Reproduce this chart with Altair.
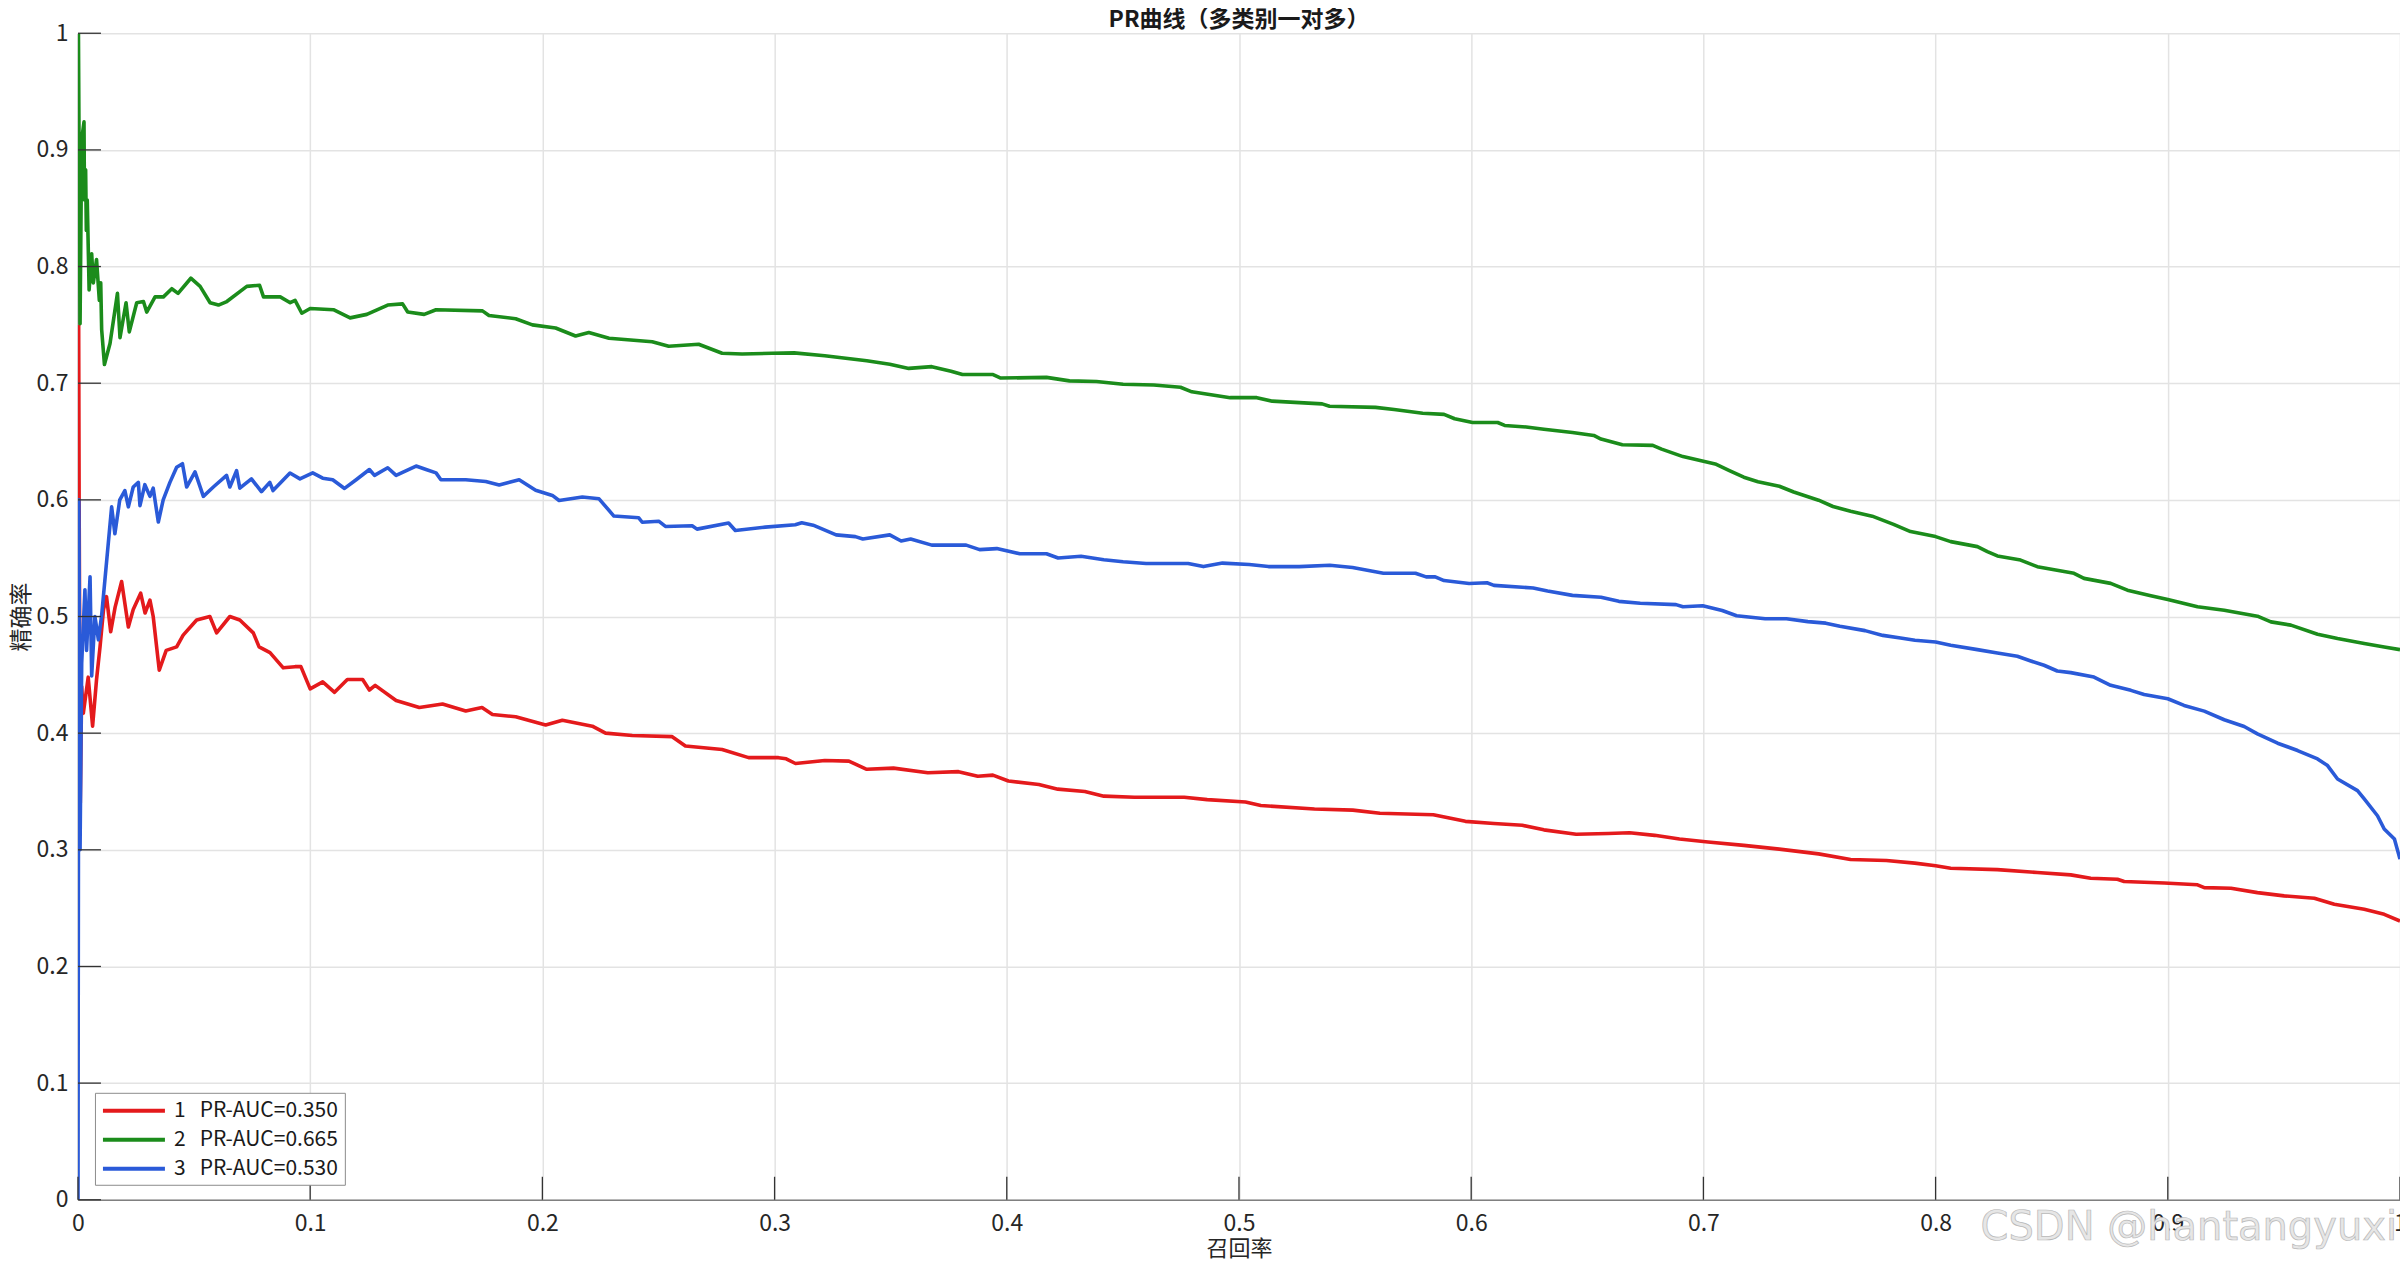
import altair as alt
import pandas as pd

# ---------------- data ----------------
LABELS = ["1\u00a0\u00a0 PR-AUC=0.350", "2\u00a0\u00a0 PR-AUC=0.665", "3\u00a0\u00a0 PR-AUC=0.530"]
COLORS = ["#e41a1c", "#1b8c1b", "#2a5ad8"]

C1_X = [0.0003, 0.0005, 0.0010, 0.0016, 0.0023, 0.0044, 0.0063, 0.008, 0.0095, 0.011, 0.0123, 0.0141,
        0.016, 0.0188, 0.0217, 0.0238, 0.027, 0.0289, 0.031, 0.0324, 0.035, 0.038, 0.0425, 0.0453,
        0.0511, 0.0568, 0.0597, 0.0654, 0.0697, 0.0755, 0.078, 0.0827, 0.0884, 0.0935, 0.096, 0.1,
        0.1054, 0.1105, 0.116, 0.1226, 0.1255, 0.128, 0.137, 0.147, 0.157, 0.167, 0.174, 0.1785,
        0.1885, 0.2014, 0.2086, 0.2215, 0.2272, 0.2387, 0.2559, 0.2616, 0.2774, 0.2888, 0.3017,
        0.305, 0.309, 0.3216, 0.332, 0.3397, 0.3512, 0.366, 0.3792, 0.3875, 0.394, 0.4007, 0.4138,
        0.422, 0.4336, 0.4418, 0.455, 0.4764, 0.4863, 0.5028, 0.5094, 0.5325, 0.549, 0.5607, 0.5837,
        0.5975, 0.6098, 0.622, 0.6313, 0.6452, 0.659, 0.6682, 0.679, 0.6897, 0.702, 0.7174, 0.7327,
        0.7496, 0.7634, 0.7788, 0.791, 0.8, 0.8065, 0.8266, 0.8438, 0.8582, 0.8668, 0.8783, 0.8812,
        0.8984, 0.9128, 0.9157, 0.9272, 0.9386, 0.9501, 0.9631, 0.9717, 0.9846, 0.9932, 1.0]
C1_Y = [0.75, 0.60, 0.34, 0.44, 0.417, 0.448, 0.406, 0.446, 0.474, 0.506, 0.517, 0.487,
        0.508, 0.530, 0.491, 0.506, 0.520, 0.503, 0.514, 0.500, 0.454, 0.471, 0.474, 0.484,
        0.497, 0.500, 0.486, 0.500, 0.497, 0.486, 0.474, 0.469, 0.456, 0.457, 0.457, 0.438,
        0.444, 0.435, 0.446, 0.446, 0.437, 0.441, 0.428, 0.422, 0.425, 0.419, 0.422, 0.416,
        0.414, 0.407, 0.411, 0.406, 0.400, 0.398, 0.397, 0.389, 0.386, 0.379, 0.379,
        0.378, 0.374, 0.3765, 0.376, 0.369, 0.370, 0.366, 0.367, 0.363, 0.364, 0.359, 0.356,
        0.352, 0.350, 0.346, 0.345, 0.345, 0.343, 0.341, 0.338, 0.335, 0.334, 0.3314, 0.330,
        0.3244, 0.3225, 0.321, 0.3171, 0.3133, 0.314, 0.3146, 0.3124, 0.3092, 0.3067, 0.3038, 0.3006,
        0.2965, 0.2917, 0.2908, 0.2886, 0.2863, 0.2842, 0.283, 0.2805, 0.2785, 0.2756, 0.2748, 0.2728,
        0.2716, 0.270, 0.2676, 0.267, 0.2633, 0.2605, 0.2585, 0.2533, 0.249, 0.2447, 0.239]

C2_X = [0.0, 0.0002, 0.0009, 0.0016, 0.0026, 0.0028, 0.0033, 0.0036, 0.0040, 0.0045, 0.0048, 0.0059,
        0.0066, 0.008, 0.0092, 0.0098, 0.0102, 0.0114, 0.0138, 0.017, 0.0181, 0.0207, 0.0221, 0.0253,
        0.0282, 0.0296, 0.0332, 0.0368, 0.0404, 0.0431, 0.0486, 0.0526, 0.0569, 0.0605, 0.0641,
        0.0727, 0.0782, 0.0799, 0.0871, 0.0914, 0.0935, 0.0964, 0.1, 0.110, 0.1172, 0.1244, 0.1334,
        0.1398, 0.142, 0.1491, 0.1542, 0.1742, 0.177, 0.1885, 0.1957, 0.2057, 0.2143, 0.22, 0.2287,
        0.2473, 0.2544, 0.2673, 0.2774, 0.286, 0.2989, 0.3084, 0.3216, 0.3397, 0.3496, 0.3578,
        0.3677, 0.376, 0.3809, 0.3941, 0.3974, 0.4171, 0.427, 0.4386, 0.4501, 0.4633, 0.4748,
        0.4797, 0.4962, 0.5077, 0.5143, 0.5358, 0.539, 0.5588, 0.5668, 0.5791, 0.5883, 0.5929,
        0.6006, 0.6114, 0.6144, 0.6237, 0.6313, 0.6436, 0.6528, 0.6559, 0.6651, 0.6782, 0.682,
        0.6912, 0.7051, 0.7112, 0.7174, 0.7235, 0.7327, 0.7389, 0.7496, 0.7558, 0.7634, 0.7727,
        0.7819, 0.7892, 0.8, 0.8065, 0.818, 0.8223, 0.8266, 0.8366, 0.8438, 0.8596, 0.8639,
        0.8754, 0.8826, 0.8927, 0.9, 0.9128, 0.9243, 0.9386, 0.9444, 0.953, 0.9645, 0.9731,
        0.9846, 0.9932, 1.0]
C2_Y = [1.0, 1.0, 0.751, 0.909, 0.924, 0.857, 0.883, 0.831, 0.857, 0.809, 0.78, 0.811,
        0.786, 0.806, 0.771, 0.786, 0.746, 0.716, 0.734, 0.777, 0.739, 0.769, 0.744, 0.769,
        0.770, 0.761, 0.774, 0.774, 0.781, 0.777, 0.790, 0.783, 0.769, 0.767, 0.770,
        0.783, 0.784, 0.774, 0.774, 0.769, 0.771, 0.760, 0.764, 0.763, 0.756, 0.759, 0.767,
        0.768, 0.761, 0.759, 0.763, 0.762, 0.758, 0.7553, 0.750, 0.7473, 0.7405, 0.7435, 0.7385,
        0.7355, 0.7317, 0.7334, 0.7257, 0.725, 0.7257, 0.726, 0.7236, 0.7192, 0.7162, 0.7127,
        0.7142, 0.7103, 0.7074, 0.7074, 0.7044, 0.705, 0.702, 0.7015, 0.6991, 0.6985, 0.6965,
        0.6926, 0.6876, 0.6876, 0.6846, 0.6823, 0.6802, 0.6793, 0.6775, 0.6743, 0.6733, 0.6695,
        0.6663, 0.6663, 0.6638, 0.6625, 0.6606, 0.6578, 0.6552, 0.6521, 0.6473, 0.6467, 0.6435,
        0.6371, 0.6308, 0.6251, 0.6194, 0.6156, 0.6117, 0.6067, 0.5997, 0.5943, 0.5902, 0.586,
        0.579, 0.5728, 0.5685, 0.5642, 0.5599, 0.5556, 0.5519, 0.5484, 0.5427, 0.537, 0.5327,
        0.5284, 0.5226, 0.5178, 0.5146, 0.5083, 0.5054, 0.5003, 0.4954, 0.4926, 0.4848, 0.4811,
        0.4768, 0.4739, 0.4716]

C3_X = [0.0, 0.0004, 0.0009, 0.0016, 0.003, 0.0037, 0.0052, 0.0059, 0.0073, 0.0088, 0.0102, 0.0145,
        0.0159, 0.018, 0.0202, 0.0217, 0.0238, 0.026, 0.0267, 0.0288, 0.031, 0.0324, 0.0346, 0.0367,
        0.0396, 0.0425, 0.045, 0.0468, 0.0504, 0.054, 0.0583, 0.064, 0.0654, 0.0683, 0.0697, 0.0747,
        0.079, 0.0826, 0.084, 0.0913, 0.0956, 0.1011, 0.1054, 0.1097, 0.1148, 0.1198, 0.1255, 0.1277,
        0.1334, 0.137, 0.1456, 0.1499, 0.1542, 0.1563, 0.167, 0.1756, 0.1814, 0.19, 0.1971, 0.2043,
        0.2072, 0.2172, 0.2244, 0.2308, 0.2415, 0.243, 0.2501, 0.253, 0.2645, 0.2666, 0.2802, 0.2831,
        0.296, 0.3089, 0.3117, 0.3166, 0.3265, 0.3348, 0.338, 0.3496, 0.3545, 0.3586, 0.3677, 0.3825,
        0.3883, 0.3957, 0.4056, 0.4171, 0.4221, 0.432, 0.4418, 0.4501, 0.46, 0.4781, 0.4847, 0.4929,
        0.5044, 0.5127, 0.5259, 0.5391, 0.5489, 0.5622, 0.576, 0.5806, 0.5845, 0.5883, 0.5991,
        0.6068, 0.6098, 0.6267, 0.6329, 0.6436, 0.6559, 0.6636, 0.6728, 0.6882, 0.6912, 0.6997,
        0.7081, 0.7143, 0.7266, 0.7358, 0.745, 0.7527, 0.7588, 0.7696, 0.7773, 0.7849, 0.7911,
        0.8, 0.8065, 0.818, 0.8266, 0.8352, 0.841, 0.8467, 0.8524, 0.8582, 0.8682, 0.8754, 0.8841,
        0.8898, 0.9, 0.907, 0.9157, 0.9243, 0.9329, 0.9386, 0.9473, 0.9559, 0.9645, 0.9688, 0.9731,
        0.9817, 0.9846, 0.9903, 0.9932, 0.9976, 1.0]
C3_Y = [0.0, 0.60, 0.30, 0.46, 0.523, 0.471, 0.534, 0.449, 0.500, 0.480, 0.501, 0.594,
        0.571, 0.600, 0.608, 0.594, 0.611, 0.615, 0.595, 0.613, 0.603, 0.610, 0.581, 0.600,
        0.615, 0.628, 0.631, 0.611, 0.624, 0.603, 0.611, 0.621, 0.611, 0.625, 0.610, 0.618,
        0.607, 0.615, 0.608, 0.623, 0.618, 0.6231, 0.6186, 0.6172, 0.6098, 0.6172, 0.626, 0.621,
        0.6275, 0.621, 0.629, 0.626, 0.6231, 0.6172, 0.6172, 0.6157, 0.6127, 0.6172, 0.6083, 0.6038,
        0.5994, 0.6024, 0.6009, 0.5861, 0.5846, 0.5808, 0.5817, 0.5772, 0.5778, 0.5749, 0.5802, 0.5737,
        0.5766, 0.5787, 0.5804, 0.5783, 0.57, 0.5685, 0.5665, 0.57, 0.5647, 0.5665, 0.5612, 0.5612,
        0.5573, 0.5582, 0.5538, 0.5538, 0.5502, 0.5517, 0.5487, 0.547, 0.5455, 0.5455, 0.5428, 0.5458,
        0.5446, 0.5428, 0.5428, 0.544, 0.542, 0.5371, 0.5371, 0.534, 0.534, 0.5308, 0.5283,
        0.5289, 0.5267, 0.5244, 0.5219, 0.5181, 0.5165, 0.513, 0.5114, 0.5102, 0.5083, 0.5092,
        0.5051, 0.5006, 0.4981, 0.4981, 0.4956, 0.4943, 0.4917, 0.4879, 0.4838, 0.4816, 0.4797,
        0.4782, 0.4754, 0.4716, 0.4688, 0.4659, 0.4619, 0.4582, 0.4533, 0.4519, 0.4481, 0.441, 0.4367,
        0.4332, 0.4295, 0.4238, 0.4189, 0.4115, 0.4057, 0.3994, 0.3914, 0.3851, 0.3779, 0.3722, 0.3607,
        0.3507, 0.3436, 0.3292, 0.3178, 0.3092, 0.292]

X_TICKS = [0, 0.1, 0.2, 0.3, 0.4, 0.5, 0.6, 0.7, 0.8, 0.9, 1]
Y_TICKS = [0, 0.1, 0.2, 0.3, 0.4, 0.5, 0.6, 0.7, 0.8, 0.9, 1]

TITLE = "PR曲线（多类别一对多）"
X_TITLE = "召回率"
Y_TITLE = "精确率"
WATERMARK = "CSDN @hantangyuxi"

# ---------------- build table ----------------
rows = []
for lab, xs, ys in zip(LABELS, [C1_X, C2_X, C3_X], [C1_Y, C2_Y, C3_Y]):
    for i, (x, y) in enumerate(zip(xs, ys)):
        rows.append({"recall": x, "precision": y, "cls": lab, "i": i})
df = pd.DataFrame(rows)

FONT = "Noto Sans CJK SC"
W, H = 2323, 1167

xscale = alt.Scale(domain=[0, 1], nice=False, zero=False)
yscale = alt.Scale(domain=[0, 1], nice=False, zero=False)

x_axis = alt.Axis(values=X_TICKS, format="~g", title=X_TITLE, grid=True, labelFlush=False,
                  labelPadding=13, titleX=W / 2, titleY=49, titleFontSize=22,
                  titleAlign="center", titleBaseline="middle")
y_axis = alt.Axis(values=Y_TICKS, format="~g", title=Y_TITLE, grid=True, labelFlush=False,
                  labelPadding=10, titleX=-56, titleY=H / 2, titleAngle=270, titleFontSize=23,
                  titleAlign="center", titleBaseline="middle")

lines = alt.Chart(df).mark_line(strokeWidth=3.6, strokeJoin="round", clip=True).encode(
    x=alt.X("recall:Q", scale=xscale, axis=x_axis),
    y=alt.Y("precision:Q", scale=yscale, axis=y_axis),
    color=alt.Color("cls:N", scale=alt.Scale(domain=LABELS, range=COLORS),
                    legend=alt.Legend(orient="none", legendX=17, legendY=1060, title=None,
                                      symbolType="M-3.1,0L3.1,0", symbolSize=400,
                                      symbolStrokeWidth=4, labelFontSize=21, labelFont=FONT,
                                      labelColor="#1a1a1a", rowPadding=7, padding=6,
                                      strokeColor="#8c8c8c", fillColor="white",
                                      symbolOffset=21, labelOffset=28, labelLimit=0)),
    order="i:Q",
)

ytick = alt.Chart(pd.DataFrame({"precision": Y_TICKS})).mark_rule(color="#333333", strokeWidth=1.3).encode(
    y=alt.Y("precision:Q", scale=yscale, axis=y_axis), x=alt.value(0), x2=alt.value(23))
xtick = alt.Chart(pd.DataFrame({"recall": X_TICKS})).mark_rule(color="#333333", strokeWidth=1.3).encode(
    x=alt.X("recall:Q", scale=xscale, axis=x_axis), y=alt.value(H), y2=alt.value(H - 23))

wm = alt.Chart(pd.DataFrame({"t": [WATERMARK]})).mark_text(
    align="right", baseline="alphabetic", fontSize=40, font="DejaVu Sans",
    fill="#e6e6e6", stroke="#b8b8b8", strokeWidth=0.7
).encode(text="t:N", x=alt.value(W - 3), y=alt.value(H + 40))

chart = alt.layer(lines, ytick, xtick, wm).properties(
    width=W, height=H,
    title=alt.Title(TITLE, fontSize=23, fontWeight="bold", font=FONT, color="#1a1a1a",
                    anchor="middle", offset=-10),
    padding={"left": 70, "top": 25, "right": 0, "bottom": 60},
    autosize="none",
).configure_view(stroke=None).configure_axis(
    labelFont=FONT, titleFont=FONT, labelFontSize=23,
    titleFontWeight="normal", labelColor="#262626", titleColor="#262626",
    gridColor="#e3e3e3", gridWidth=1.5, domainColor="#808080", domainWidth=1.5,
    tickSize=0,
)

chart.save("out.html", embed_options={"renderer": "svg", "actions": False})
